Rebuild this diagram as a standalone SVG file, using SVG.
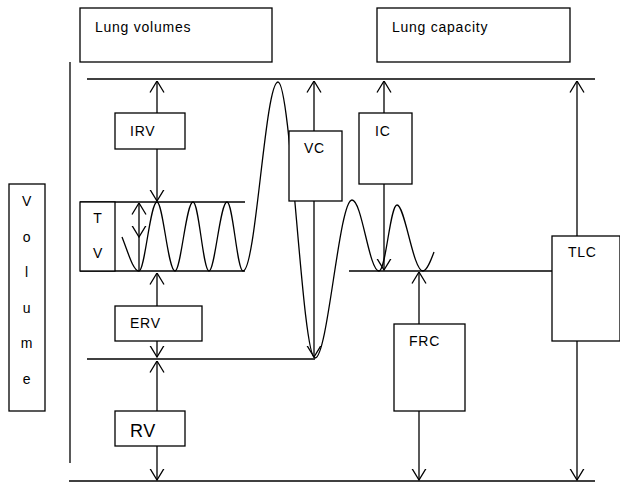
<svg xmlns="http://www.w3.org/2000/svg" width="620" height="483" viewBox="0 0 620 483">
<defs>
<style>
.b{fill:#fff;stroke:#000;stroke-width:1.3}
.l{fill:none;stroke:#000;stroke-width:1.3}
.a{fill:none;stroke:#000;stroke-width:1.3;marker-end:url(#ah)}
.t{font-family:"Liberation Sans",Arial,sans-serif;font-size:14px;letter-spacing:0.75px;fill:#000}
</style>
<marker id="ah" viewBox="0 0 12 16" refX="11.5" refY="8" markerWidth="12" markerHeight="16" markerUnits="userSpaceOnUse" orient="auto-start-reverse">
<path d="M0,1 L11.5,8 L0,15" fill="none" stroke="#000" stroke-width="1.3"/>
</marker>
</defs>
<g id="connectors">
<line class="l" x1="70" y1="62" x2="70" y2="463"/>
<line class="l" x1="87" y1="79" x2="595" y2="79"/>
<line class="l" x1="69" y1="481" x2="595" y2="481"/>
<line class="l" x1="80" y1="202" x2="245" y2="202"/>
<line class="l" x1="80" y1="271" x2="245" y2="271"/>
<line class="l" x1="87" y1="359" x2="315" y2="359"/>
<line class="l" x1="349" y1="271" x2="552" y2="271"/>
<path class="l" d="M122,237 C128,252 133,271 139,271 C145,271 150,202 157,202 C163,202 168,271 175,271 C181,271 186,202 193,202 C199,202 203,271 209,271 C215,271 220,202 227,202 C233,202 237,271 243,271 C256,271 265,82 278,82 C291,82 302,358 315,358 C328,358 339,200 352,200 C362,200 369,271 379,271 C386,271 390,205 397,205 C405,205 413,271 423,271 C427,271 431,260 434,252"/>
<line class="a" x1="157" y1="113" x2="157" y2="81"/>
<line class="a" x1="157" y1="149" x2="157" y2="201"/>
<line class="a" x1="314" y1="131" x2="314" y2="81"/>
<line class="a" x1="314" y1="201" x2="314" y2="357"/>
<line class="a" x1="384" y1="113" x2="384" y2="81"/>
<line class="a" x1="384" y1="184" x2="384" y2="270"/>
<line class="a" x1="577" y1="236" x2="577" y2="81"/>
<line class="a" x1="577" y1="341" x2="577" y2="480"/>
<line class="a" x1="419" y1="324" x2="419" y2="272"/>
<line class="a" x1="419" y1="411" x2="419" y2="480"/>
<line class="a" x1="157" y1="306" x2="157" y2="273"/>
<line class="a" x1="157" y1="341" x2="157" y2="357"/>
<line class="a" x1="157" y1="411" x2="157" y2="361"/>
<line class="a" x1="157" y1="446" x2="157" y2="480"/>
<line class="a" x1="139" y1="237" x2="139" y2="203" style="marker-start:url(#ah)"/>
<line class="l" x1="139" y1="237" x2="139" y2="270"/>
</g>
<g id="lungvolumes"><rect class="b" x="80" y="8" width="192" height="54"/><text class="t" x="95" y="32">Lung volumes</text></g>
<g id="lungcapacity"><rect class="b" x="377" y="8" width="193" height="54"/><text class="t" x="392" y="32">Lung capacity</text></g>
<g id="volume"><rect class="b" x="9" y="184" width="36" height="227"/>
<text class="t" text-anchor="middle" x="27" y="206">V</text>
<text class="t" text-anchor="middle" x="27" y="242">o</text>
<text class="t" text-anchor="middle" x="27" y="277">l</text>
<text class="t" text-anchor="middle" x="27" y="313">u</text>
<text class="t" text-anchor="middle" x="27" y="348">m</text>
<text class="t" text-anchor="middle" x="27" y="384">e</text></g>
<g id="irv"><rect class="b" x="115" y="113" width="70" height="36"/><text class="t" x="130" y="136">IRV</text></g>
<g id="tv"><rect class="b" x="80" y="202" width="35" height="69"/><text class="t" text-anchor="middle" x="98" y="223">T</text><text class="t" text-anchor="middle" x="98" y="258">V</text></g>
<g id="erv"><rect class="b" x="115" y="306" width="87" height="35"/><text class="t" x="130" y="328">ERV</text></g>
<g id="rv"><rect class="b" x="115" y="411" width="70" height="35"/><text class="t" x="130" y="437" style="font-size:18px;letter-spacing:0.5px">RV</text></g>
<g id="vc"><rect class="b" x="289" y="131" width="53" height="70"/><text class="t" x="304" y="153">VC</text></g>
<g id="ic"><rect class="b" x="359" y="113" width="53" height="71"/><text class="t" x="375" y="136">IC</text></g>
<g id="frc"><rect class="b" x="394" y="324" width="71" height="87"/><text class="t" x="409" y="346">FRC</text></g>
<g id="tlc"><rect class="b" x="552" y="236" width="68" height="105"/><text class="t" x="568" y="257">TLC</text></g>
</svg>
